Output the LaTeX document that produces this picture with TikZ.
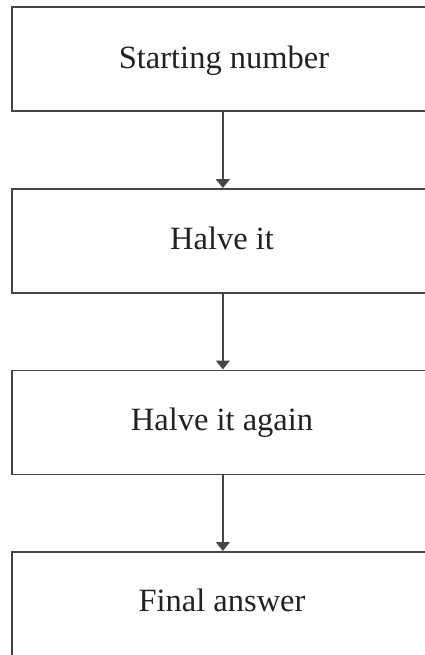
\documentclass[tikz,border=0pt]{standalone}
\usepackage{fontspec}
\setmainfont{Liberation Serif}
\usetikzlibrary{arrows.meta}
\definecolor{linegray}{HTML}{454545}
\definecolor{textgray}{HTML}{222222}
\begin{document}
\begin{tikzpicture}[x=1pt,y=1pt,
  flowbox/.style={draw=linegray, line width=1.8pt, minimum width=422pt, minimum height=104pt, anchor=north west, inner sep=0pt},
  flowlabel/.style={text=textgray, font=\fontsize{32.5}{38}\selectfont, text height=21.5pt, text depth=0pt, inner sep=0pt},
  flowarrow/.style={draw=linegray, line width=1.5pt, -{Triangle[width=14pt,length=9pt]}}]
\useasboundingbox (0,0) rectangle (425,-655);
\node[flowbox] (b1) at (11,-6.5) {};
\node[flowbox] (b2) at (11,-188) {};
\node[flowbox] (b3) at (11,-369.5) {};
\node[flowbox, minimum height=115pt] (b4) at (11,-551) {};
\node[flowlabel] (t1) at (224,-58) {Starting number};
\node[flowlabel] (t2) at (222,-238.5) {Halve it};
\node[flowlabel] (t3) at (222,-420) {Halve it again};
\node[flowlabel] (t4) at (222,-601) {Final answer};
\draw[flowarrow] (b1.south) -- (b2.north);
\draw[flowarrow] (b2.south) -- (b3.north);
\draw[flowarrow] (b3.south) -- (b4.north);
\end{tikzpicture}
\end{document}
